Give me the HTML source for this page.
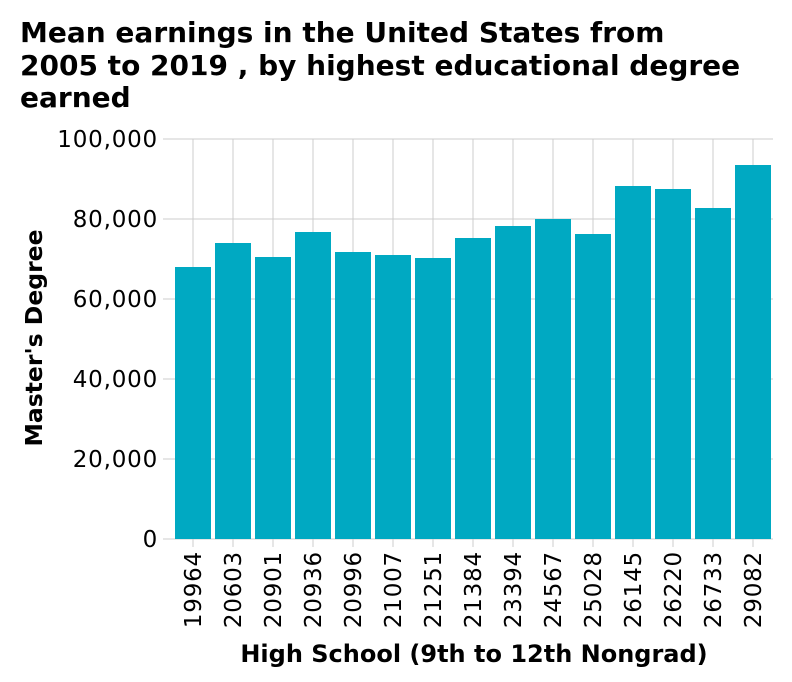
<!DOCTYPE html>
<html><head><meta charset="utf-8"><style>
body{margin:0;background:#fff;}
svg{display:block;font-family:"DejaVu Sans","Liberation Sans",sans-serif;}
</style></head><body>
<svg id="chart" width="792" height="682">
<text x="20" y="42" font-size="28" font-weight="bold" fill="#000">Mean earnings in the United States from</text>
<text x="20" y="75" font-size="28" font-weight="bold" fill="#000">2005 to 2019 , by highest educational degree</text>
<text x="20" y="107" font-size="28" font-weight="bold" fill="#000">earned</text>
<g id="grid"></g><g id="bars"></g><g id="axes"></g>
<text x="474" y="662" font-size="24" font-weight="bold" text-anchor="middle">High School (9th to 12th Nongrad)</text>
<text transform="translate(42,338) rotate(-90)" font-size="23.5" font-weight="bold" text-anchor="middle">Master's Degree</text>
</svg>
<script>
const categories=["19964","20603","20901","20936","20996","21007","21251","21384","23394","24567","25028","26145","26220","26733","29082"];
const values=[68000,74000,70500,76750,71750,71000,70250,75250,78250,80000,76250,88250,87500,82750,93500];
const yTicks=[0,20000,40000,60000,80000,100000];
const yTickLabels=["0","20,000","40,000","60,000","80,000","100,000"];
const X0=173,X1=773,Y0=539,Y1=139,YMAX=100000;
const band=(X1-X0)/categories.length;
const xC=i=>X0+band*(i+0.5);
const y=v=>Y0-(v/YMAX)*(Y0-Y1);
const ns="http://www.w3.org/2000/svg";
function mk(t,a,p){const e=document.createElementNS(ns,t);for(const k in a)e.setAttribute(k,a[k]);p.appendChild(e);return e;}
const grid=document.getElementById('grid'),bars=document.getElementById('bars'),axes=document.getElementById('axes');
yTicks.forEach((t,i)=>{
 const l=mk('line',{x1:X0-10,x2:X1,y1:y(t),y2:y(t),stroke:'#ccc','stroke-width':1},grid);
 
 
 const tx=mk('text',{x:X0-15,y:y(t)+8,'font-size':23,'letter-spacing':'0.8','text-anchor':'end',fill:'#000'},axes);
 tx.textContent=yTickLabels[i];
 
 
});
categories.forEach((c,i)=>{
 const g=mk('line',{x1:xC(i),x2:xC(i),y1:Y1,y2:Y0+8,stroke:'#ccc','stroke-width':1},grid);
 
 
 const b=mk('rect',{x:xC(i)-18,y:y(values[i]),width:36,height:Y0-y(values[i]),fill:'#00a9c2'},bars);
 
 
 const t=mk('text',{transform:`translate(${xC(i)+8},${Y0+12}) rotate(-90)`,'font-size':23,'letter-spacing':'0.8','text-anchor':'end',fill:'#000'},axes);
 t.textContent=c;
 
 
});
</script>
</body></html>
